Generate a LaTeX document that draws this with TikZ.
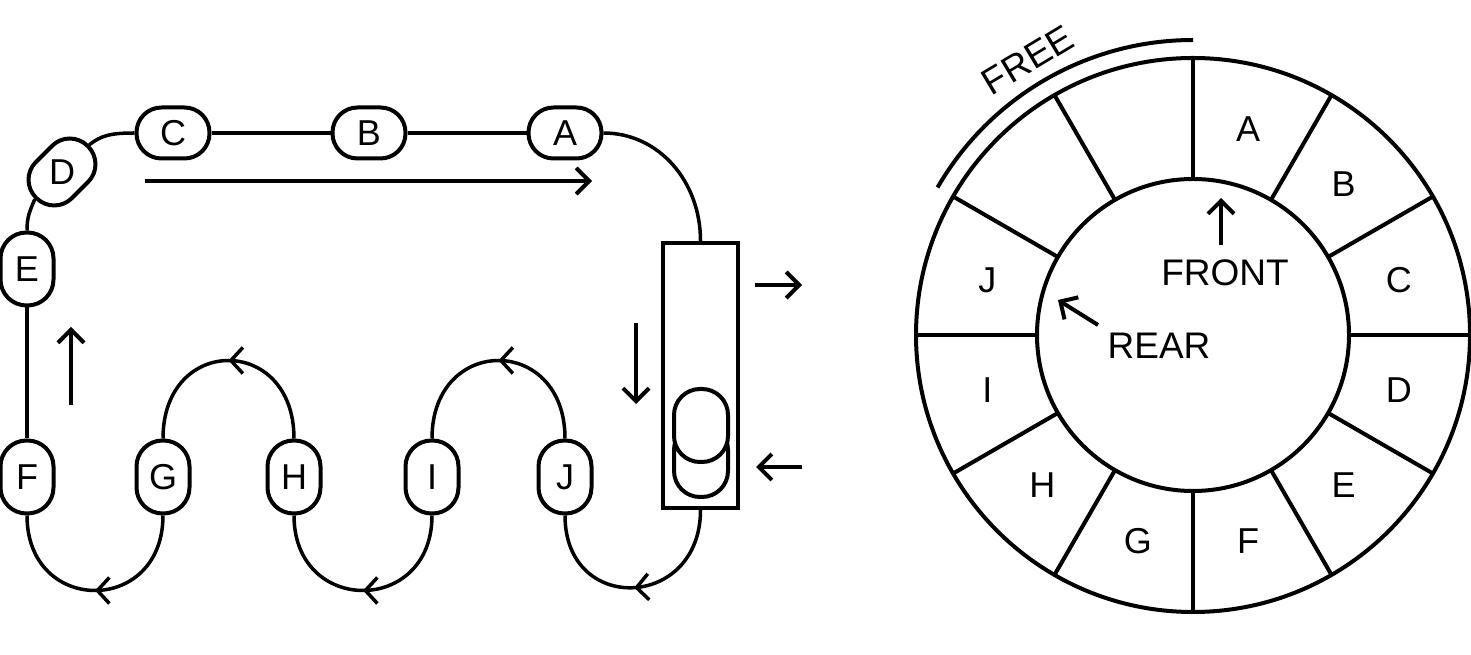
\documentclass[tikz,border=0pt]{standalone}
\usepackage{fontspec}
\setmainfont{Liberation Sans}
\usetikzlibrary{arrows.meta,calc,decorations.markings}
\tikzset{
  ln/.style={line width=4pt},
  conn/.style={line width=3.5pt},
  arr/.style={line width=4pt,-{Straight Barb[length=13pt,width=26pt]}},
  pillh/.style={draw,line width=4pt,rectangle,rounded corners=25pt,minimum width=73pt,minimum height=51pt,inner sep=0pt,fill=white},
  pillv/.style={draw,line width=4pt,rectangle,rounded corners=26pt,minimum width=53pt,minimum height=73pt,inner sep=0pt,fill=white},
  midarrow/.style={postaction={decorate},decoration={markings,mark=at position 0.5 with {\arrow{Straight Barb[length=12pt,width=26pt]}}}},
  every node/.style={font=\fontsize{36}{43}\selectfont}
}
\begin{document}
\begin{tikzpicture}[x=1pt,y=1pt]
\useasboundingbox (0,0) rectangle (1471,655);
% ---------- left diagram ----------
\node[pillh] (C) at (173,522) {C};
\node[pillh] (B) at (369,522) {B};
\node[pillh] (A) at (565,522) {A};
\node[pillh,rotate=45] (D) at (62,483) {\rotatebox{-45}{D}};
\node[pillv] (E) at (27,386) {E};
\node[pillv] (F) at (27,178) {F};
\node[pillv] (G) at (163,178) {G};
\node[pillv] (H) at (294,178) {H};
\node[pillv] (I) at (432,178) {I};
\node[pillv] (J) at (565,178) {J};
\node[draw,line width=4pt,minimum width=75pt,minimum height=265pt,inner sep=0pt] (box) at (700.5,279.5) {};
\node[pillv,minimum width=54pt] (q2) at (701,194.5) {};
\node[pillv,minimum width=54pt] (q1) at (701,229.5) {};

\draw[conn] (C.east) -- (B.west);
\draw[conn] (B.east) -- (A.west);
\draw[conn] (A.east) .. controls +(55,0) and +(0,60) .. (box.north);
\draw[conn,midarrow] (box.south) .. controls +(0,-100) and +(0,-100) .. (J.south);
\draw[conn,midarrow] (J.north) .. controls +(0,104) and +(0,104) .. (I.north);
\draw[conn,midarrow] (I.south) .. controls +(0,-100) and +(0,-100) .. (H.south);
\draw[conn,midarrow] (H.north) .. controls +(0,104) and +(0,104) .. (G.north);
\draw[conn,midarrow] (G.south) .. controls +(0,-100) and +(0,-100) .. (F.south);
\draw[conn] (F.north) -- (E.south);
\draw[conn] (E.north) .. controls +(0,14) and +(-5,-12) .. (D.west);
\draw[conn] (D.east) .. controls +(12,9) and +(-25,0) .. (C.west);

\draw[arr] (145,474) -- (592,474);
\draw[arr] (636,332) -- (636,251);
\draw[arr] (755,370) -- (802,370);
\draw[arr] (802,188) -- (756,188);
\draw[arr] (71,250) -- (71,328);

% ---------- ring ----------
\coordinate (O) at (1193,320);
\draw[ln] (O) circle[radius=277];
\draw[ln] (O) circle[radius=156];
\foreach \a in {0,30,...,330}
  \draw[ln] ($(O)+(\a:156)$) -- ($(O)+(\a:277)$);
\foreach \l/\a in {A/75,B/45,C/15,D/-15,E/-45,F/-75,G/-105,H/-135,I/-165,J/165}
  \node at ($(O)+(\a:213)$) {\l};
\draw[ln] ($(O)+(90:295)$) arc[start angle=90,end angle=150,radius=295];
\node[rotate=31,font=\fontsize{37}{44}\selectfont] (free) at ($(O)+(121:321)$) {FREE};
\node[font=\fontsize{37}{44}\selectfont] (front) at (1225,382) {FRONT};
\node[font=\fontsize{37}{44}\selectfont] (rear) at (1159,309) {REAR};
\draw[arr] (1221,410) -- (1221,457);
\draw[arr] (1098,330) -- (1058,355);
\end{tikzpicture}
\end{document}
